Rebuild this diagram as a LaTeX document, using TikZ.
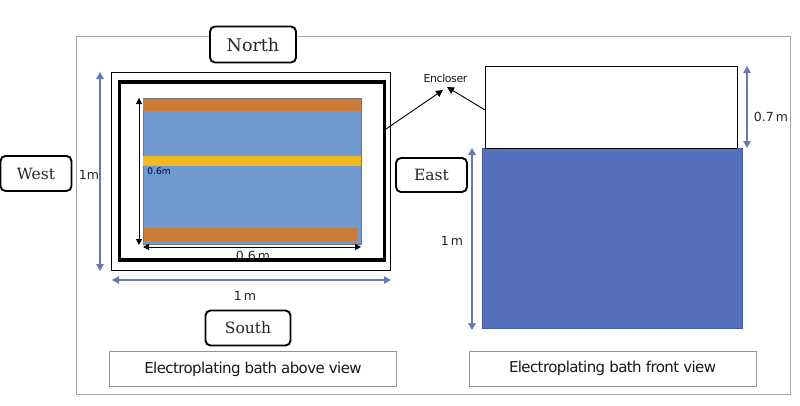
\documentclass[tikz,border=0pt]{standalone}
\usepackage{fontspec}
\setmainfont{DejaVu Serif}
\setsansfont{DejaVu Sans}[LetterSpace=-4]
\newfontfamily\dimfont{DejaVu Sans}
\usetikzlibrary{arrows.meta}
\definecolor{frameg}{HTML}{A6A6A6}
\definecolor{dimblue}{HTML}{6A78B4}
\definecolor{bathblue}{HTML}{5570BC}
\definecolor{water}{HTML}{7099D0}
\definecolor{copper}{HTML}{CC7A38}
\definecolor{zinc}{HTML}{F0BA20}
\tikzset{
  x=1pt,y=-1pt,
  dirbox/.style={draw=black,line width=1.9pt,rounded corners=5pt,fill=white,inner sep=0pt,font=\fontsize{15.5}{17}\selectfont,text=black!85},
  capbox/.style={draw=frameg!90!black,line width=0.9pt,fill=white,inner sep=0pt,minimum width=287pt,minimum height=35pt,font=\sffamily\fontsize{15}{17}\selectfont,text=black!90},
  dimb/.style={draw=dimblue,line width=1.1pt,{Triangle[length=7pt,width=7.5pt]}-{Triangle[length=7pt,width=7.5pt]}},
  dimk/.style={draw=black,line width=0.9pt,{Triangle[length=6pt,width=6pt]}-{Triangle[length=6pt,width=6pt]}},
  lead/.style={draw=black,line width=0.9pt,-{Triangle[length=7pt,width=7pt]}},
  dimlab/.style={inner sep=0pt,font=\dimfont\fontsize{12.5}{14}\selectfont,text=black!85},
  strip/.style={draw=none,inner sep=0pt,anchor=north west}
}
\begin{document}
\begin{tikzpicture}
\useasboundingbox (0,0) rectangle (800,405);
\fill[white] (0,0) rectangle (800,405);
% frame
\node[draw=frameg,line width=0.9pt,inner sep=0pt,minimum width=714.5pt,minimum height=358pt] (frame) at (433.25,215) {};
% top view
\node[draw=black,line width=0.9pt,fill=white,inner sep=0pt,minimum width=279pt,minimum height=198pt] (outer) at (250.5,171) {};
\node[draw=black,line width=3.4pt,inner sep=0pt,minimum width=265pt,minimum height=178pt] (wall) at (252,171) {};
\node[draw=frameg!70!black,line width=0.6pt,fill=water,inner sep=0pt,minimum width=218pt,minimum height=146pt] (bath) at (252,171) {};
\node[strip,fill=copper,minimum width=218pt,minimum height=12.5pt] (top) at (143,98.5) {};
\node[strip,fill=zinc,minimum width=218pt,minimum height=10pt] (mid) at (143,156) {};
\node[strip,fill=copper,minimum width=214pt,minimum height=13pt] (bot) at (143.5,228) {};
% dimension ends
\coordinate (a1) at (100,72); \coordinate (a2) at (100,271);
\coordinate (b1) at (112,280); \coordinate (b2) at (391,280);
\coordinate (c1) at (139,98); \coordinate (c2) at (139,245);
\coordinate (d1) at (143,247); \coordinate (d2) at (361,247);
\draw[dimb] (a1) -- (a2);
\draw[dimb] (b1) -- (b2);
\draw[dimk] (c1) -- (c2);
\draw[dimk] (d1) -- (d2);
\node[dimlab] (l1) at (89,175) {1m};
\node[dimlab] (l2) at (245,296) {1\,m};
\node[dimlab] (l3) at (253,256) {0.6\,m};
\node[dimlab,font=\dimfont\fontsize{9}{10}\selectfont,text=black!80!blue] (l4) at (159,171.5) {0.6m};
% direction boxes
\node[dirbox,minimum width=86pt,minimum height=36pt,font=\fontsize{17.5}{19}\selectfont] (north) at (253,44.5) {North};
\node[dirbox,minimum width=71pt,minimum height=35pt] (west) at (36,173.5) {West};
\node[dirbox,minimum width=85pt,minimum height=35pt] (south) at (248,328) {South};
\node[dirbox,minimum width=71pt,minimum height=34pt] (east) at (431.5,175) {East};
% front view
\node[draw=black,line width=0.9pt,fill=white,inner sep=0pt,minimum width=252pt,minimum height=82pt] (tank) at (611,107) {};
\node[draw=bathblue!85!black,line width=0.6pt,fill=bathblue,inner sep=0pt,minimum width=260pt,minimum height=180pt] (liquid) at (612.5,238.5) {};
\draw[draw=black,line width=0.9pt] (tank.south west) -- (tank.south east);
\coordinate (e1) at (747,66); \coordinate (e2) at (747,148);
\coordinate (f1) at (472,148); \coordinate (f2) at (472,330);
\draw[dimb] (e1) -- (e2);
\draw[dimb] (f1) -- (f2);
\node[dimlab] (l5) at (771,117) {0.7\,m};
\node[dimlab] (l6) at (452,241) {1\,m};
% encloser
\node[inner sep=0pt,font=\sffamily\fontsize{11}{13}\selectfont,text=black!90] (encl) at (445.5,78.5) {Encloser};
\coordinate (g1) at (386,129); \coordinate (g2) at (443,90);
\coordinate (h1) at (485,110); \coordinate (h2) at (447,87);
\draw[lead] (g1) -- (g2);
\draw[lead] (h1) -- (h2);
% captions
\node[capbox] (cap1) at (253,369) {Electroplating bath above view};
\node[capbox] (cap2) at (612.5,368.5) {Electroplating bath front view};
\end{tikzpicture}
\end{document}
